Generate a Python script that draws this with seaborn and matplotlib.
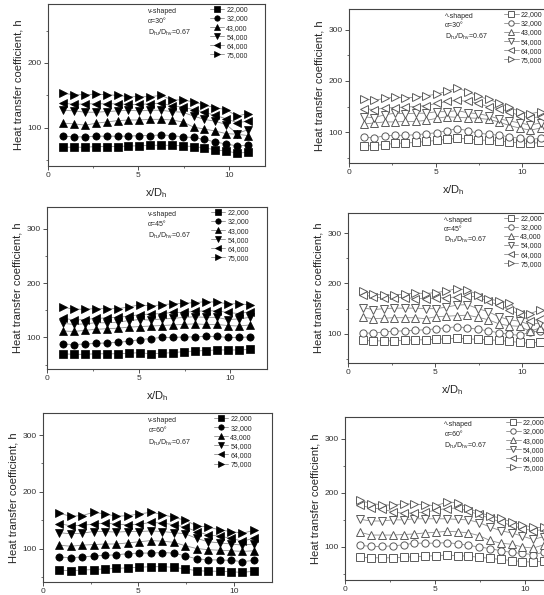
import pandas as pd
import matplotlib
matplotlib.use("Agg")
import matplotlib.pyplot as plt
from matplotlib.ticker import MultipleLocator
import seaborn as sns

# streamwise stations along the duct
x_dh = [0.85, 1.45, 2.05, 2.65, 3.25, 3.85, 4.45, 5.05, 5.65,
        6.25, 6.85, 7.45, 8.05, 8.65, 9.25, 9.85, 10.45, 11.05]

reynolds = ['22,000', '32,000', '43,000', '54,000', '64,000', '75,000']
marker_list = ['s', 'o', '^', 'v', '<', '>']

# v-shaped ribs, alpha = 30
v30 = {
    '22,000': [70, 70, 70, 71, 71, 71, 72, 72, 73, 73, 73, 72, 71, 69, 66, 64, 61, 62],
    '32,000': [87, 86, 86, 87, 87, 87, 87, 88, 88, 89, 88, 86, 85, 82, 78, 75, 72, 73],
    '43,000': [107, 106, 104, 107, 109, 111, 112, 112, 113, 113, 112, 109, 101, 98, 95, 91, 90, 88],
    '54,000': [127, 126, 124, 124, 125, 126, 127, 126, 127, 127, 125, 124, 118, 113, 110, 105, 91, 97],
    '64,000': [138, 136, 137, 137, 137, 137, 136, 136, 137, 138, 134, 132, 128, 124, 119, 114, 108, 110],
    '75,000': [153, 151, 151, 152, 151, 150, 148, 148, 148, 150, 143, 143, 140, 135, 131, 128, 118, 122],
}
# ^-shaped ribs, alpha = 30
a30 = {
    '22,000': [73, 74, 76, 78, 79, 80, 82, 84, 86, 88, 87, 85, 84, 83, 81, 79, 78, 80],
    '32,000': [90, 89, 93, 94, 94, 95, 97, 99, 103, 107, 103, 98, 96, 94, 91, 88, 86, 88],
    '43,000': [116, 118, 120, 120, 121, 121, 123, 127, 130, 129, 128, 127, 125, 120, 113, 108, 104, 108],
    '54,000': [130, 128, 134, 137, 136, 137, 137, 140, 140, 142, 138, 136, 132, 126, 122, 118, 114, 118],
    '64,000': [146, 144, 147, 148, 149, 150, 152, 156, 160, 162, 160, 157, 149, 146, 140, 132, 128, 130],
    '75,000': [165, 162, 166, 168, 167, 168, 171, 174, 180, 186, 179, 170, 164, 157, 149, 140, 136, 140],
}
# v-shaped ribs, alpha = 45
v45 = {
    '22,000': [70, 69, 69, 70, 70, 70, 71, 72, 70, 71, 72, 74, 75, 76, 77, 77, 77, 78],
    '32,000': [88, 87, 88, 89, 90, 91, 93, 96, 98, 100, 100, 101, 101, 102, 102, 100, 100, 101],
    '43,000': [112, 111, 113, 115, 116, 117, 119, 120, 121, 122, 123, 124, 125, 124, 124, 122, 121, 123],
    '54,000': [126, 124, 125, 127, 127, 128, 131, 133, 132, 134, 135, 137, 138, 137, 137, 133, 134, 137],
    '64,000': [136, 132, 133, 135, 136, 137, 139, 142, 143, 144, 146, 146, 148, 149, 149, 146, 144, 147],
    '75,000': [156, 152, 152, 153, 153, 153, 156, 160, 158, 160, 162, 163, 164, 166, 165, 162, 162, 160],
}
# ^-shaped ribs, alpha = 45
a45 = {
    '22,000': [87, 86, 86, 86, 87, 88, 88, 89, 90, 91, 90, 89, 88, 87, 85, 83, 81, 84],
    '32,000': [102, 101, 104, 105, 106, 107, 108, 110, 112, 114, 112, 109, 106, 102, 99, 97, 103, 106],
    '43,000': [133, 130, 131, 132, 132, 132, 130, 134, 135, 136, 137, 133, 128, 120, 116, 115, 105, 112],
    '54,000': [152, 148, 150, 151, 151, 151, 150, 150, 153, 157, 158, 150, 144, 134, 128, 125, 118, 122],
    '64,000': [178, 173, 171, 172, 172, 170, 170, 171, 172, 173, 175, 173, 165, 157, 148, 139, 125, 130],
    '75,000': [185, 179, 177, 177, 179, 181, 180, 182, 185, 190, 187, 178, 170, 165, 162, 143, 140, 148],
}
# v-shaped ribs, alpha = 60
v60 = {
    '22,000': [62, 61, 62, 63, 64, 65, 66, 67, 68, 68, 67, 64, 61, 60, 60, 59, 58, 60],
    '32,000': [85, 84, 85, 87, 88, 89, 91, 92, 92, 93, 92, 87, 82, 80, 80, 79, 77, 79],
    '43,000': [106, 104, 106, 107, 108, 108, 110, 112, 114, 113, 111, 105, 100, 98, 97, 96, 95, 96],
    '54,000': [128, 126, 127, 130, 130, 129, 130, 130, 131, 130, 128, 126, 118, 112, 110, 108, 106, 108],
    '64,000': [144, 140, 141, 143, 145, 143, 142, 143, 146, 145, 142, 138, 130, 124, 122, 118, 113, 118],
    '75,000': [162, 157, 158, 164, 161, 157, 158, 161, 164, 160, 155, 150, 140, 138, 133, 130, 127, 132],
}
# ^-shaped ribs, alpha = 60
a60 = {
    '22,000': [81, 80, 80, 80, 81, 82, 83, 84, 85, 84, 83, 81, 79, 77, 75, 73, 72, 74],
    '32,000': [103, 101, 101, 102, 104, 107, 107, 107, 108, 106, 103, 100, 97, 93, 90, 88, 86, 90],
    '43,000': [127, 122, 122, 122, 123, 124, 126, 127, 129, 128, 126, 121, 112, 107, 105, 100, 98, 104],
    '54,000': [151, 148, 148, 150, 150, 152, 152, 152, 152, 151, 150, 145, 137, 130, 126, 120, 114, 119],
    '64,000': [177, 172, 170, 165, 162, 163, 164, 168, 171, 172, 166, 160, 153, 146, 140, 134, 130, 132],
    '75,000': [186, 180, 178, 177, 180, 179, 178, 176, 183, 182, 172, 163, 158, 153, 146, 141, 136, 136],
}

sns.set_style("ticks")
plt.rcParams['font.family'] = ['Liberation Sans', 'DejaVu Sans']
plt.rcParams['mathtext.default'] = 'regular'

W, H = 544, 595
fig = plt.figure(figsize=(W / 100, H / 100), dpi=100)

# (shape, angle, data, ylim, [left, top, right, bottom] in pixels, show xlabel)
panels = [
    ('v-shaped', '30', v30, (41, 291), (48, 4, 265, 166), True),
    ('^-shaped', '30', a30, (40, 340), (349, 9, 557, 163), True),
    ('v-shaped', '45', v45, (42, 340), (47, 207, 267, 369), True),
    ('^-shaped', '45', a45, (42, 340), (348, 213, 557, 363), True),
    ('v-shaped', '60', v60, (41, 339), (43, 413, 272, 582), False),
    ('^-shaped', '60', a60, (39, 340), (345, 417, 561, 580), False),
]

for shape, angle, data, ylim, (l, t, r, b), show_xlabel in panels:
    ax = fig.add_axes([l / W, 1 - b / H, (r - l) / W, (b - t) / H])
    rows = []
    for re in reynolds:
        for xv, hv in zip(x_dh, data[re]):
            rows.append({'x': xv, 'h': hv, 'Re': re})
    df = pd.DataFrame(rows)

    filled = shape.startswith('v')
    sns.lineplot(data=df, x='x', y='h', style='Re', style_order=reynolds,
                 markers=dict(zip(reynolds, marker_list)), dashes=False,
                 color='#8c8c8c', linewidth=0.6, markersize=5.2,
                 markerfacecolor='black' if filled else 'white',
                 markeredgecolor='black' if filled else '#5a5a5a',
                 markeredgewidth=0.5 if filled else 0.7,
                 legend=False, errorbar=None, ax=ax)

    ax.set_xlim(0, 12)
    ax.set_ylim(*ylim)
    ax.xaxis.set_major_locator(MultipleLocator(5))
    ax.xaxis.set_minor_locator(MultipleLocator(2.5))
    ax.yaxis.set_major_locator(MultipleLocator(100))
    ax.yaxis.set_minor_locator(MultipleLocator(50))
    ax.tick_params(which='major', direction='out', length=3, width=0.6,
                   labelsize=6, pad=1.5, colors='#333333')
    ax.tick_params(which='minor', direction='out', length=1.5, width=0.5,
                   colors='#333333')
    for sp in ax.spines.values():
        sp.set_visible(True)
        sp.set_color('#444444')
        sp.set_linewidth(0.8)

    ax.set_ylabel('Heat transfer coefficient, h', fontsize=8, labelpad=3)
    if show_xlabel:
        ax.set_xlabel('x/D$_{h}$', fontsize=8, labelpad=5)
    else:
        ax.set_xlabel('')

    ax.text(0.46, 0.975, shape, transform=ax.transAxes, fontsize=5, va='top')
    ax.text(0.46, 0.915, u'\u03b1=' + angle + u'\u00b0', transform=ax.transAxes,
            fontsize=5, va='top')
    ax.text(0.46, 0.855, 'D$_{hu}$/D$_{hv}$=0.67', transform=ax.transAxes,
            fontsize=5, va='top')

    ax.legend(handles=ax.lines[:6], labels=reynolds, loc='upper left',
              bbox_to_anchor=(0.745, 0.985), frameon=False, fontsize=5,
              handlelength=2.1, handletextpad=0.3, labelspacing=0.3,
              borderpad=0, borderaxespad=0, markerscale=0.75)

fig.savefig('out.png', dpi=100)
